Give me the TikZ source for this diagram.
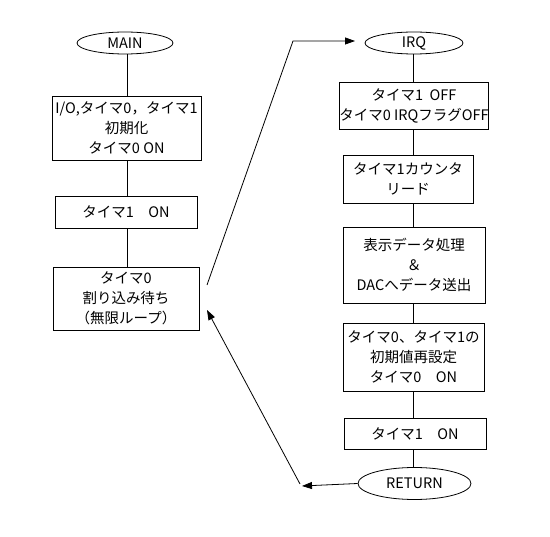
\documentclass[tikz,border=0pt]{standalone}
\usepackage{fontspec}
\setmainfont{Noto Sans CJK JP}
\usetikzlibrary{arrows.meta,shapes.geometric}
\begin{document}
\begin{tikzpicture}[x=1pt,y=-1pt,
  every node/.style={font=\fontsize{14.5}{20}\selectfont, align=center, inner sep=0pt},
  proc/.style={draw, line width=0.8pt},
  term/.style={draw, ellipse, line width=0.8pt},
  link/.style={line width=0.8pt},
  arr/.style={line width=0.8pt, -{Triangle[length=10pt,width=7pt]}}]
\useasboundingbox[fill=white] (0,0) rectangle (550,537);
% left column
\node[term, minimum width=96, minimum height=22] (main) at (125,43) {MAIN};
\node[proc, minimum width=149, minimum height=64] (b1) at (126.5,128) {I/O,タイマ0，タイマ1\\初期化\\タイマ0 ON};
\node[proc, minimum width=142, minimum height=32] (b2) at (126,212) {タイマ1　ON};
\node[proc, minimum width=146, minimum height=63] (b3) at (126,298.5) {タイマ0\\割り込み待ち\\（無限ループ）};
% right column
\node[term, minimum width=98, minimum height=22] (irq) at (414,43) {IRQ};
\node[proc, minimum width=140, minimum height=47] (r1) at (414,105.5) {タイマ1\ \ OFF\\タイマ0 IRQフラグOFF};
\node[proc, minimum width=130, minimum height=48] (r2) at (408,179) {タイマ1カウンタ\\リード};
\node[proc, minimum width=142, minimum height=76] (r3) at (414,265) {表示データ処理\\＆\\DACへデータ送出};
\node[proc, minimum width=141, minimum height=68] (r4) at (413.5,357) {タイマ0、タイマ1の\\初期値再設定\\タイマ0　ON};
\node[proc, minimum width=142, minimum height=31] (r5) at (415,433.5) {タイマ1　ON};
\node[term, minimum width=113, minimum height=32] (ret) at (414.5,483.5) {RETURN};
% axis coordinates
\coordinate (lx) at (127,0);
\coordinate (rx) at (413,0);
% vertical links
\draw[link] (main.south -| lx) -- (b1.north -| lx);
\draw[link] (b1.south -| lx) -- (b2.north -| lx);
\draw[link] (b2.south -| lx) -- (b3.north -| lx);
\draw[link] (irq.south -| rx) -- (r1.north -| rx);
\draw[link] (r1.south -| rx) -- (r2.north -| rx);
\draw[link] (r2.south -| rx) -- (r3.north -| rx);
\draw[link] (r3.south -| rx) -- (r4.north -| rx);
\draw[link] (r4.south -| rx) -- (r5.north -| rx);
\draw[link] (r5.south -| rx) -- (ret.north -| rx);
% interrupt arrows
\coordinate (s1) at (207,285);
\coordinate (k1) at (293,41);
\coordinate (e1) at (355,41);
\draw[arr] (s1) -- (k1) -- (e1);
\coordinate (e2) at (302,486);
\coordinate (s3) at (300,484);
\coordinate (e3) at (207,310);
\draw[arr] (ret.west) -- (e2);
\draw[arr] (s3) -- (e3);
\end{tikzpicture}
\end{document}
